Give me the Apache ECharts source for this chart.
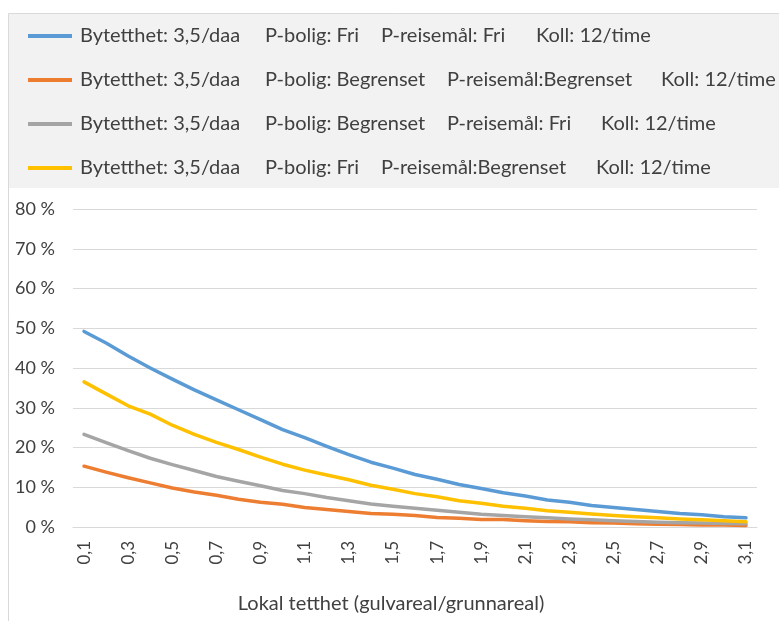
<!DOCTYPE html>
<html>
<head>
<meta charset="utf-8">
<script src="https://cdn.jsdelivr.net/npm/echarts@6/dist/echarts.min.js"></script>
<style>
  html, body { margin: 0; padding: 0; background: #ffffff; }
  #chart { width: 779px; height: 621px; }
</style>
</head>
<body>
<div id="chart"></div>
<script>
// Local density (floor area / ground area), 0,1 to 3,1
const categories = [
  '0,1','0,2','0,3','0,4','0,5','0,6','0,7','0,8','0,9','1,0',
  '1,1','1,2','1,3','1,4','1,5','1,6','1,7','1,8','1,9','2,0',
  '2,1','2,2','2,3','2,4','2,5','2,6','2,7','2,8','2,9','3,0','3,1'
];

// Shares (fraction) per scenario
const friFri = [
  0.492,0.463,0.430,0.400,0.372,0.345,0.320,0.295,0.270,0.245,
  0.225,0.203,0.182,0.163,0.148,0.132,0.120,0.107,0.097,0.086,
  0.078,0.068,0.062,0.054,0.049,0.044,0.039,0.034,0.031,0.026,0.023
];
const begrBegr = [
  0.153,0.138,0.124,0.111,0.098,0.088,0.080,0.070,0.062,0.057,
  0.049,0.044,0.039,0.034,0.032,0.029,0.024,0.022,0.019,0.019,
  0.016,0.014,0.013,0.011,0.010,0.008,0.007,0.006,0.005,0.005,0.004
];
const begrFri = [
  0.233,0.212,0.192,0.173,0.157,0.142,0.127,0.115,0.104,0.092,
  0.084,0.074,0.066,0.058,0.052,0.047,0.042,0.037,0.032,0.029,
  0.026,0.023,0.020,0.018,0.016,0.014,0.012,0.011,0.010,0.009,0.008
];
const friBegr = [
  0.365,0.335,0.305,0.284,0.256,0.233,0.213,0.195,0.176,0.158,
  0.143,0.131,0.119,0.105,0.095,0.084,0.076,0.066,0.060,0.052,
  0.047,0.041,0.037,0.033,0.029,0.026,0.023,0.020,0.018,0.016,0.013
];

// Legend text, split into its four columns
const labelBytetthet = ['Bytetthet: 3,5/daa', 'Bytetthet: 3,5/daa', 'Bytetthet: 3,5/daa', 'Bytetthet: 3,5/daa'];
const labelBolig = ['P-bolig: Fri', 'P-bolig: Begrenset', 'P-bolig: Begrenset', 'P-bolig: Fri'];
const labelReisemaal = ['P-reisemål: Fri', 'P-reisemål:Begrenset', 'P-reisemål: Fri', 'P-reisemål:Begrenset'];
const labelKoll = ['Koll: 12/time', 'Koll: 12/time', 'Koll: 12/time', 'Koll: 12/time'];

const yTicks = [0, 0.1, 0.2, 0.3, 0.4, 0.5, 0.6, 0.7, 0.8];
const xTitle = 'Lokal tetthet (gulvareal/grunnareal)';

const colors = ['#5B9BD5', '#ED7D31', '#A5A5A5', '#FFC000'];
const seriesData = [friFri, begrBegr, begrFri, friBegr];
const FONT = 'Lato, "Open Sans", sans-serif';
const TEXT = '#404040';

const names = labelBytetthet.map((_, i) =>
  [labelBytetthet[i], labelBolig[i], labelReisemaal[i], labelKoll[i]].join('  '));

// column widths of the legend text per row
const colB = [116, 182, 182, 116];
const colC = [155, 214, 154, 215];

const rich = {};
names.forEach((n, i) => {
  const base = { fontSize: 20, fontFamily: FONT, color: TEXT };
  rich['a' + i] = Object.assign({ width: 185 }, base);
  rich['b' + i] = Object.assign({ width: colB[i] }, base);
  rich['c' + i] = Object.assign({ width: colC[i] }, base);
  rich['d' + i] = Object.assign({}, base);
});

const chart = echarts.init(document.getElementById('chart'), null, { renderer: 'canvas' });

chart.setOption({
  animation: false,
  backgroundColor: '#ffffff',
  graphic: [
    {
      type: 'rect', z: -10, silent: true,
      shape: { x: 8.5, y: 13.5, width: 800, height: 700 },
      style: { fill: '#ffffff', stroke: '#d9d9d9', lineWidth: 1 }
    },
    {
      type: 'rect', z: -9, silent: true,
      shape: { x: 9, y: 14, width: 790, height: 174 },
      style: { fill: '#f2f2f2' }
    },
    {
      type: 'text', silent: true,
      x: 391, y: 594,
      style: { text: xTitle, textAlign: 'center', fontSize: 20, fontFamily: FONT, fill: TEXT }
    }
  ],
  legend: {
    orient: 'vertical',
    left: 28,
    top: 26,
    padding: 0,
    itemWidth: 44,
    itemHeight: 4,
    itemGap: 24,
    icon: 'rect',
    data: names,
    formatter: function (name) {
      const i = names.indexOf(name);
      return '{a' + i + '|' + labelBytetthet[i] + '}{b' + i + '|' + labelBolig[i] + '}{c' + i + '|' +
        labelReisemaal[i] + '}{d' + i + '|' + labelKoll[i] + '}';
    },
    textStyle: { rich: rich, fontSize: 20, padding: [0, 0, 0, 3] }
  },
  grid: { left: 73, right: 22, top: 209, bottom: 94, containLabel: false },
  xAxis: {
    type: 'category',
    data: categories,
    boundaryGap: true,
    axisLine: { lineStyle: { color: '#d9d9d9', width: 1 } },
    axisTick: { show: false },
    axisLabel: {
      interval: 1,
      rotate: 90,
      margin: 14,
      fontSize: 17,
      fontFamily: FONT,
      color: TEXT
    }
  },
  yAxis: {
    type: 'value',
    min: 0,
    max: 0.8,
    interval: 0.1,
    axisLine: { show: false },
    axisTick: { show: false },
    splitLine: { lineStyle: { color: '#d9d9d9', width: 1 } },
    axisLabel: {
      margin: 18,
      fontSize: 18,
      fontFamily: FONT,
      color: TEXT,
      formatter: function (v) {
        const t = yTicks.find(x => Math.abs(x - v) < 1e-9);
        return Math.round((t !== undefined ? t : v) * 100) + ' %';
      }
    }
  },
  series: seriesData.map((d, i) => ({
    name: names[i],
    type: 'line',
    data: d,
    symbol: 'none',
    smooth: false,
    itemStyle: { color: colors[i] },
    lineStyle: { color: colors[i], width: 3.5, cap: 'round', join: 'round' }
  }))
});
</script>
</body>
</html>
